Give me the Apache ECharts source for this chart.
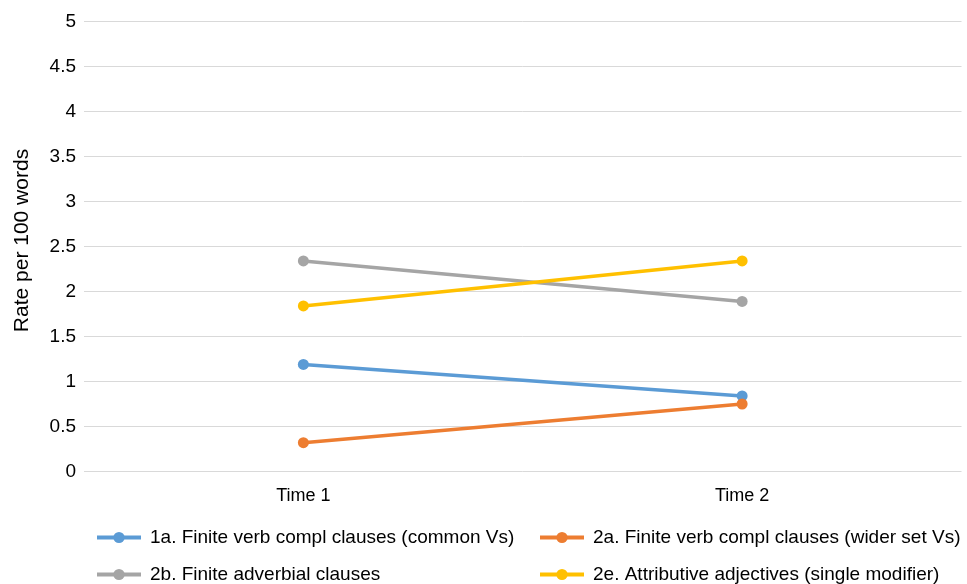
<!DOCTYPE html>
<html><head><meta charset="utf-8">
<script src="https://cdn.jsdelivr.net/npm/echarts@6/dist/echarts.min.js"></script>
<style>html,body{margin:0;padding:0;background:#fff}#c{width:967px;height:584px}</style>
</head><body><div id="c"></div>
<script>
const categories = ['Time 1', 'Time 2'];
const seriesNames = [
  '1a. Finite verb compl clauses (common Vs)',
  '2a. Finite verb compl clauses (wider set Vs)',
  '2b. Finite adverbial clauses',
  '2e. Attributive adjectives (single modifier)'
];
const s1a = [1.19, 0.84];
const s2a = [0.32, 0.75];
const s2b = [2.34, 1.89];
const s2e = [1.84, 2.34];
const yTicks = [0, 0.5, 1, 1.5, 2, 2.5, 3, 3.5, 4, 4.5, 5];
const colors = ['#5B9BD5', '#ED7D31', '#A5A5A5', '#FFC000'];
const values = [s1a, s2a, s2b, s2e];
const font = 'Liberation Sans, Helvetica, Arial, sans-serif';

const chart = echarts.init(document.getElementById('c'), null, {renderer: 'canvas'});
function mkLegend(left, top, name) {
  return {
    orient: 'horizontal', left: left, top: top, padding: 0,
    itemWidth: 44, itemHeight: 14,
    data: [name],
    lineStyle: {width: 4},
    textStyle: {fontFamily: font, fontSize: 19, color: '#000', padding: [0, 0, 0, 4]}
  };
}
chart.setOption({
  animation: false,
  color: colors,
  grid: {left: 84, right: 5.5, top: 21.5, bottom: 112.5, containLabel: false, outerBoundsMode: 'none'},
  legend: [
    mkLegend(95, 528, seriesNames[0]),
    mkLegend(538, 528, seriesNames[1]),
    mkLegend(95, 565, seriesNames[2]),
    mkLegend(538, 565, seriesNames[3])
  ],
  xAxis: {
    type: 'category', data: categories, boundaryGap: true,
    axisLine: {show: false}, axisTick: {show: false},
    axisLabel: {fontFamily: font, fontSize: 18, color: '#000', margin: 16}
  },
  yAxis: {
    type: 'value', min: yTicks[0], max: yTicks[yTicks.length - 1], interval: 0.5,
    name: 'Rate per 100 words', nameLocation: 'middle', nameGap: 51, nameRotate: 90,
    nameTextStyle: {fontFamily: font, fontSize: 21, color: '#000', padding: [0, 0, 0, 12]},
    axisLine: {show: false}, axisTick: {show: false},
    axisLabel: {fontFamily: font, fontSize: 19, color: '#000', margin: 8},
    splitLine: {lineStyle: {color: '#d9d9d9', width: 1}}
  },
  series: values.map((v, i) => ({
    name: seriesNames[i], type: 'line', data: v,
    symbol: 'circle', symbolSize: 11,
    lineStyle: {width: 3.5, color: colors[i]},
    itemStyle: {color: colors[i]}
  }))
});
</script></body></html>
